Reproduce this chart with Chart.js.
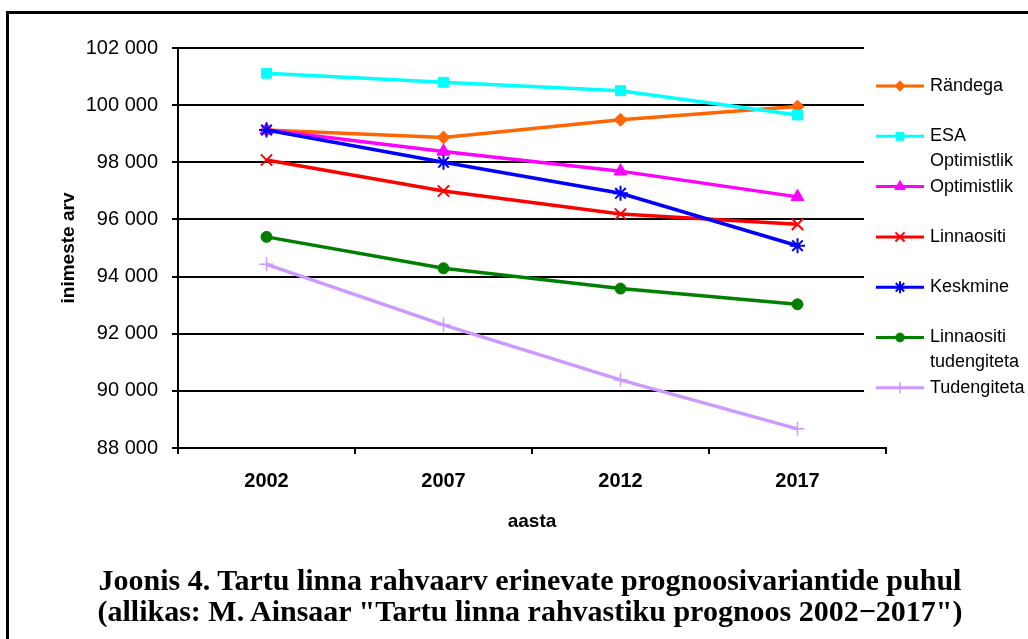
<!DOCTYPE html>
<html>
<head>
<meta charset="utf-8">
<script src="https://cdn.jsdelivr.net/npm/chart.js@4"></script>
<style>
  body { margin: 0; background: #fff; }
  #wrap { position: relative; width: 1028px; height: 639px; overflow: hidden; }
  #frame { position: absolute; left: 6px; top: 11px; width: 1040px; height: 700px;
           border-left: 3px solid #000; border-top: 3px solid #000; }
  canvas { position: absolute; left: 0; top: 0; }
  .caption { position: absolute; left: 30px; width: 1000px; text-align: center;
             font-family: "Liberation Serif", "Times New Roman", serif; font-weight: bold;
             font-size: 30px; line-height: 31px; color: #000; white-space: nowrap; }
</style>
</head>
<body>
<div id="wrap">
  <div id="frame"></div>
  <canvas id="myChart" width="1028" height="639"></canvas>
  <div class="caption" style="top:564px">Joonis 4. Tartu linna rahvaarv erinevate prognoosivariantide puhul</div>
  <div class="caption" style="top:595px">(allikas: M. Ainsaar "Tartu linna rahvastiku prognoos 2002−2017")</div>
</div>
<script>
// Years on the x axis
var years = ["2002", "2007", "2012", "2017"];

// Series values
var randega     = [99130, 98870, 99490, 99950];
var esaOpt      = [101115, 100800, 100505, 99655];
var optimistlik = [99130, 98380, 97690, 96790];
var linnaositi  = [98080, 96995, 96190, 95830];
var keskmine    = [99130, 98000, 96915, 95080];
var linnaTud    = [95390, 94290, 93580, 93030];
var tudengiteta = [94430, 92310, 90385, 88670];

// Legend names (multi-line ones split)
var names = [["Rändega"], ["ESA", "Optimistlik"], ["Optimistlik"], ["Linnaositi"],
             ["Keskmine"], ["Linnaositi", "tudengiteta"], ["Tudengiteta"]];

var yMin = 88000, yMax = 102000, yStep = 2000;

var seriesValues = [randega, esaOpt, optimistlik, linnaositi, keskmine, linnaTud, tudengiteta];
var colors = ["#FF6600", "#00FFFF", "#FF00FF", "#FF0000", "#0000FF", "#008000", "#CC99FF"];
var styles = ["rectRot", "rect", "triangle", "crossRot", "star", "circle", "cross"];
var radii  = [6.5, 7, 7.5, 8, 7.5, 5.5, 7];
var borders = [1, 1, 1, 2, 2, 1, 1.5];

Chart.defaults.font.family = '"Liberation Sans", Arial, sans-serif';
Chart.defaults.color = "#000";

function fmt(v) {
    return String(v).replace(/\B(?=(\d{3})+(?!\d))/g, " ");
}

// Horizontal gridlines stop short of the right end of the axis
var gridLines = {
    id: "gridLines",
    beforeDatasetsDraw: function(chart) {
        var ctx = chart.ctx, area = chart.chartArea, y = chart.scales.y;
        ctx.save();
        ctx.strokeStyle = "#000";
        ctx.lineWidth = 2;
        y.ticks.forEach(function(t) {
            if (t.value === yMin) return;
            var py = Math.round(y.getPixelForValue(t.value));
            ctx.beginPath();
            ctx.moveTo(area.left, py);
            ctx.lineTo(area.right - 22, py);
            ctx.stroke();
        });
        ctx.restore();
    }
};

// Legend on the right, drawn by hand so that long names can wrap
var sideLegend = {
    id: "sideLegend",
    afterDraw: function(chart) {
        var ctx = chart.ctx;
        var x0 = chart.chartArea.right - 10;
        ctx.save();
        chart.data.datasets.forEach(function(ds, i) {
            var y = 86 + i * 50.3;
            ctx.strokeStyle = ds.borderColor;
            ctx.lineWidth = 3;
            ctx.beginPath();
            ctx.moveTo(x0, y);
            ctx.lineTo(x0 + 48, y);
            ctx.stroke();
            ctx.fillStyle = ds.borderColor;
            ctx.strokeStyle = ds.borderColor;
            ctx.lineWidth = ds.pointBorderWidth;
            Chart.helpers.drawPoint(ctx, {
                pointStyle: ds.pointStyle, rotation: 0,
                radius: ds.pointRadius * 0.8, borderWidth: ds.pointBorderWidth
            }, x0 + 24, y);
            ctx.fillStyle = "#000";
            ctx.font = '18px "Liberation Sans", Arial, sans-serif';
            ctx.textBaseline = "middle";
            names[i].forEach(function(line, k) {
                ctx.fillText(line, x0 + 54, y + k * 25);
            });
        });
        ctx.restore();
    }
};

var datasets = seriesValues.map(function(vals, i) {
    return {
        label: names[i].join(" "),
        data: vals,
        borderColor: colors[i],
        backgroundColor: colors[i],
        borderWidth: 3.5,
        tension: 0,
        pointStyle: styles[i],
        pointRadius: radii[i],
        pointBackgroundColor: colors[i],
        pointBorderColor: colors[i],
        pointBorderWidth: borders[i],
        order: seriesValues.length - i
    };
});

var ctx = document.getElementById("myChart").getContext("2d");
var chart = new Chart(ctx, {
    type: "line",
    data: { labels: years, datasets: datasets },
    options: {
        responsive: false,
        animation: false,
        devicePixelRatio: 1,
        layout: { padding: { left: 0, top: 48, right: 142, bottom: 0 } },
        plugins: { legend: { display: false }, tooltip: { enabled: false } },
        scales: {
            x: {
                offset: true,
                grid: { offset: true, drawOnChartArea: false, color: "#000", lineWidth: 2, tickLength: 6 },
                border: { display: true, color: "#000", width: 2 },
                ticks: { padding: 15, font: { size: 20, weight: "bold" } },
                title: { display: true, text: "aasta", font: { size: 19, weight: "bold" },
                         padding: { top: 0, bottom: 106 } },
                afterFit: function(scale) { scale.height = 191; }
            },
            y: {
                min: yMin, max: yMax,
                grid: { drawOnChartArea: false, color: "#000", lineWidth: 2, tickLength: 6 },
                border: { display: true, color: "#000", width: 2 },
                ticks: { stepSize: yStep, padding: 14, font: { size: 20 },
                         callback: function(v) { return fmt(v); } },
                title: { display: true, text: "inimeste arv", font: { size: 19, weight: "bold" },
                         padding: { top: 57, bottom: 0 } },
                afterFit: function(scale) { scale.width = 178; }
            }
        }
    },
    plugins: [gridLines, sideLegend]
});
</script>
</body>
</html>
